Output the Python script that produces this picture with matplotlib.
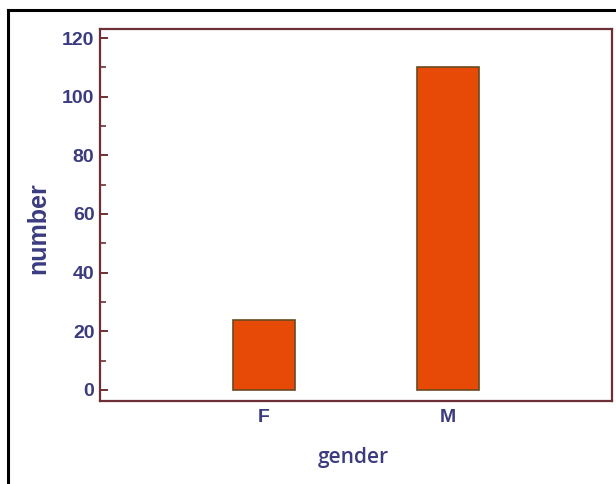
import numpy as np
import matplotlib
matplotlib.use('Agg')
import matplotlib.pyplot as plt
from matplotlib.lines import Line2D
from matplotlib.ticker import MultipleLocator

# data
categories = ['F', 'M']
counts = [24, 110]

# colours
BAR = '#e64a06'
EDGE = '#6a4a1e'
SPINE = '#6e2f36'
TXT = '#3b3b80'

fig = plt.figure(figsize=(6.16, 4.84), dpi=100)
fig.patch.set_facecolor('white')

# outer black frame (top and left only, the rest is cropped)
fig.add_artist(Line2D([8 / 616, 8 / 616], [0, 1 - 10 / 484], color='black', lw=2.2,
                      transform=fig.transFigure))
fig.add_artist(Line2D([8 / 616, 1], [1 - 10 / 484, 1 - 10 / 484], color='black', lw=2.2,
                      transform=fig.transFigure))

ax = fig.add_axes([100 / 616, 1 - 401 / 484, 512 / 616, 372 / 484])
x = np.arange(len(categories))
ax.bar(x, counts, width=0.34, color=BAR, edgecolor=EDGE, linewidth=1.2, zorder=3)

ax.set_xlim(-0.89, 1.89)
ax.set_ylim(-3.8, 123.1)
ax.set_xticks(x)
ax.set_xticklabels(categories)
ax.yaxis.set_major_locator(MultipleLocator(20))
ax.yaxis.set_minor_locator(MultipleLocator(10))

for s in ax.spines.values():
    s.set_color(SPINE)
    s.set_linewidth(1.6)

ax.tick_params(axis='y', which='major', direction='in', length=6, width=1.4,
               color=SPINE, labelsize=14, labelcolor=TXT, pad=4)
ax.tick_params(axis='y', which='minor', direction='in', length=4, width=1.2, color=SPINE)
ax.tick_params(axis='x', length=0, labelsize=14, labelcolor=TXT, pad=6)
for lab in ax.get_xticklabels() + ax.get_yticklabels():
    lab.set_fontweight('bold')
    lab.set_family('Liberation Sans')

ax.set_ylabel('number', fontsize=18, color=TXT, fontweight='bold',
              family='Liberation Sans')
ax.yaxis.set_label_coords(-50 / 512, (401 - 228) / 372)
ax.set_xlabel('gender', fontsize=15, color=TXT, fontweight='semibold',
              family='Open Sans')
ax.xaxis.set_label_coords(253 / 512, -(447 - 401) / 372)

fig.savefig('out.png', dpi=100, facecolor='white')
